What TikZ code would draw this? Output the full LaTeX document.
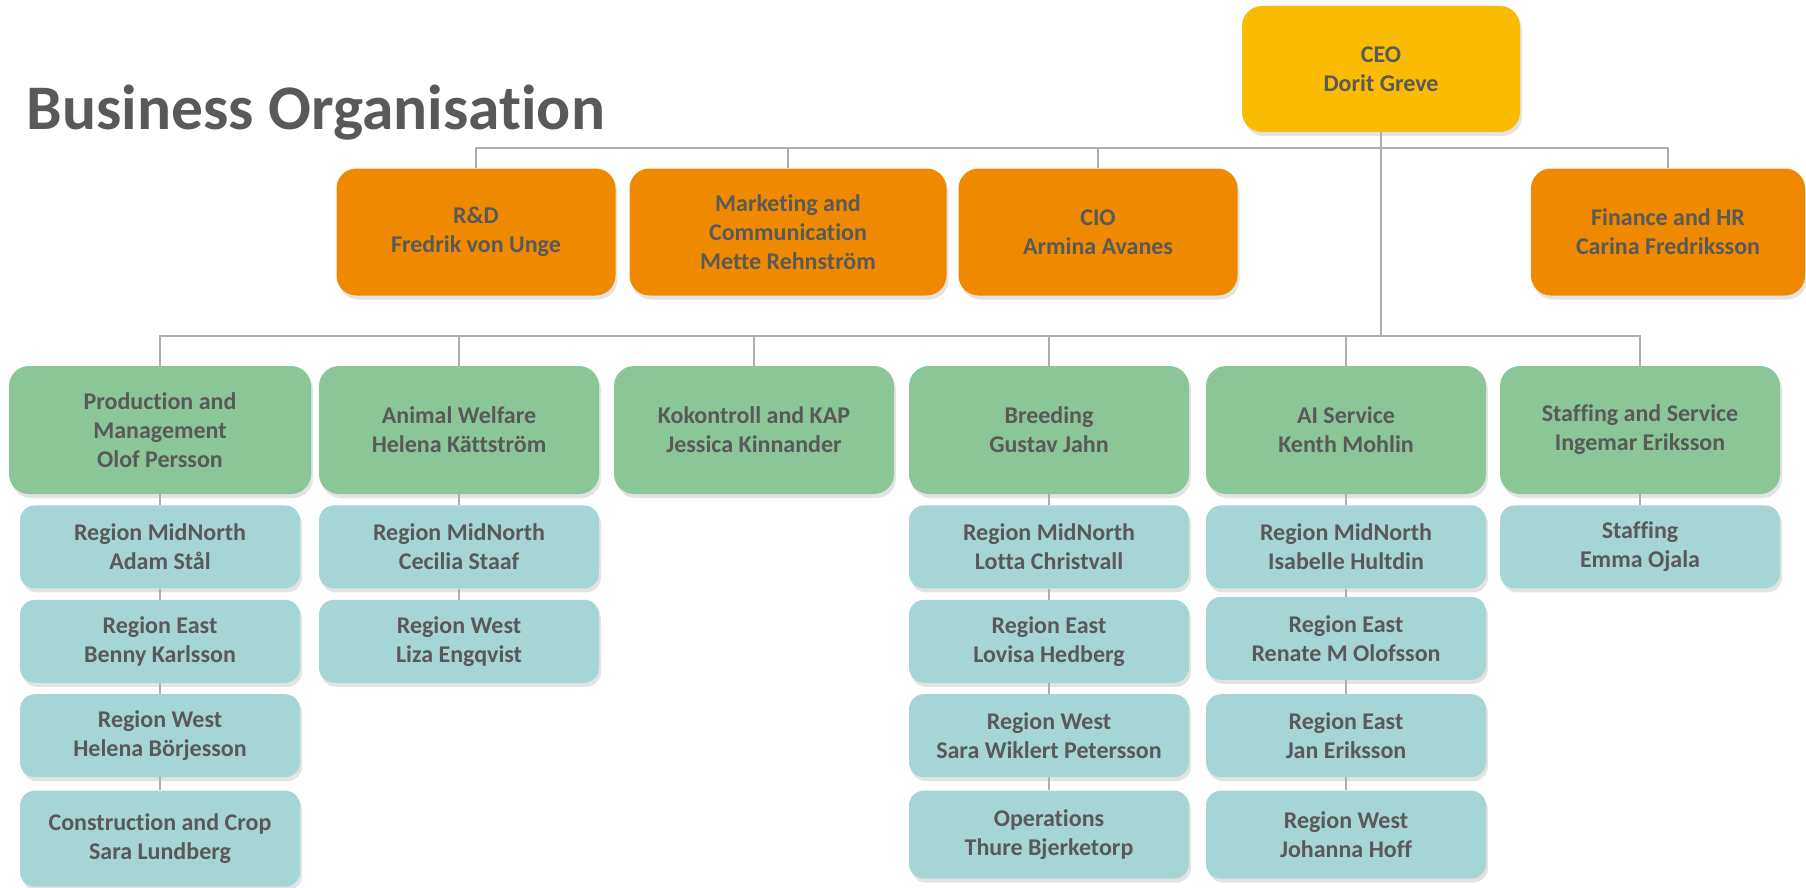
\documentclass[tikz,border=0pt]{standalone}
\usepackage{fontspec}
\setmainfont{Carlito}[Ligatures=CommonOff]
\usetikzlibrary{positioning, shadows}
\definecolor{ceoyellow}{HTML}{F9BC02}
\definecolor{headorange}{HTML}{EF8A00}
\definecolor{deptgreen}{HTML}{8BC699}
\definecolor{unitteal}{HTML}{A5D6D5}
\definecolor{textgray}{HTML}{595959}
\definecolor{linegray}{HTML}{AEAEAE}
\tikzset{
x=1pt, y=1pt, % one unit is one pixel of the chart
box/.style={align=center, text=textgray, inner sep=0pt,
  font=\fontsize{24}{29}\selectfont\bfseries,
  drop shadow={shadow xshift=2pt, shadow yshift=-4pt, opacity=0.22}}, % common look of every box
ceobox/.style={box, rounded corners=20pt, fill=ceoyellow, minimum width=278pt, minimum height=126pt},
headbox/.style={box, rounded corners=20pt, fill=headorange, minimum width=279pt, minimum height=127pt},
deptbox/.style={box, rounded corners=20pt, fill=deptgreen, minimum width=280pt, minimum height=128pt},
unitbox/.style={box, rounded corners=15pt, fill=unitteal, minimum width=280pt, minimum height=83pt},
link/.style={draw=linegray, line width=2pt}, % the gray connectors
node distance=11pt,
}
\begin{document}
\begin{tikzpicture}
                \useasboundingbox (0,0) rectangle (1806,-888);
                \node[anchor=base west, text=textgray, font=\fontsize{63.5}{70}\selectfont\bfseries] (title) at (23,-129) {Business Organisation};
                % top
                \node[ceobox] (ceo) at (1381,-69) {CEO\\Dorit Greve};
                \node[headbox] (rd) at (476,-232) {R\&D\\Fredrik von Unge};
                \node[headbox, minimum width=317pt] (mkt) at (788,-232) {Marketing and\\Communication\\Mette Rehnström};
                \node[headbox] (cio) at (1098,-232) {CIO\\Armina Avanes};
                \node[headbox, minimum width=274pt] (fin) at (1668,-232) {Finance and HR\\Carina Fredriksson};
                % departments
                \node[deptbox, minimum width=302pt] (prod) at (160,-430) {Production and\\Management\\Olof Persson};
                \node[deptbox] (welf) at (459,-430) {Animal Welfare\\Helena Kättström};
                \node[deptbox] (kok) at (754,-430) {Kokontroll and KAP\\Jessica Kinnander};
                \node[deptbox] (breed) at (1049,-430) {Breeding\\Gustav Jahn};
                \node[deptbox] (ai) at (1346,-430) {AI Service\\Kenth Mohlin};
                \node[deptbox] (staff) at (1640,-430) {Staffing and Service\\Ingemar Eriksson};
                % units
                \node[unitbox, below=of prod] (prod1) {Region MidNorth\\Adam Stål};
                \node[unitbox, below=of prod1] (prod2) {Region East\\Benny Karlsson};
                \node[unitbox, below=of prod2] (prod3) {Region West\\Helena Börjesson};
                \node[unitbox, below=13pt of prod3, minimum height=96pt] (prod4) {Construction and Crop\\Sara Lundberg};
                \node[unitbox, below=of welf] (welf1) {Region MidNorth\\Cecilia Staaf};
                \node[unitbox, below=of welf1] (welf2) {Region West\\Liza Engqvist};
                \node[unitbox, below=of breed] (breed1) {Region MidNorth\\Lotta Christvall};
                \node[unitbox, below=of breed1] (breed2) {Region East\\Lovisa Hedberg};
                \node[unitbox, below=of breed2] (breed3) {Region West\\Sara Wiklert Petersson};
                \node[unitbox, below=13pt of breed3, minimum height=88pt] (breed4) {Operations\\Thure Bjerketorp};
                \node[unitbox, below=of ai] (ai1) {Region MidNorth\\Isabelle Hultdin};
                \node[unitbox, below=8pt of ai1] (ai2) {Region East\\Renate M Olofsson};
                \node[unitbox, below=14pt of ai2] (ai3) {Region East\\Jan Eriksson};
                \node[unitbox, below=13pt of ai3, minimum height=88pt] (ai4) {Region West\\Johanna Hoff};
                \node[unitbox, below=of staff] (staff1) {Staffing\\Emma Ojala};
                % connectors
                \coordinate (bus1) at (1381,-148);
                \coordinate (bus2) at (1381,-336);
                \draw[link] (ceo.south) -- (bus2);
                \foreach \h in {rd, mkt, cio, fin}
                    \draw[link] (\h.north) |- (bus1);
                \foreach \d in {prod, welf, kok, breed, ai, staff}
                    \draw[link] (\d.north) |- (bus2);
                \foreach \a/\b in {prod/prod1, prod1/prod2, prod2/prod3, prod3/prod4,
                    welf/welf1, welf1/welf2, breed/breed1, breed1/breed2, breed2/breed3,
                    breed3/breed4, ai/ai1, ai1/ai2, ai2/ai3, ai3/ai4, staff/staff1}
                    \draw[link] (\a.south) -- (\b.north);
                \end{tikzpicture}
\end{document}
